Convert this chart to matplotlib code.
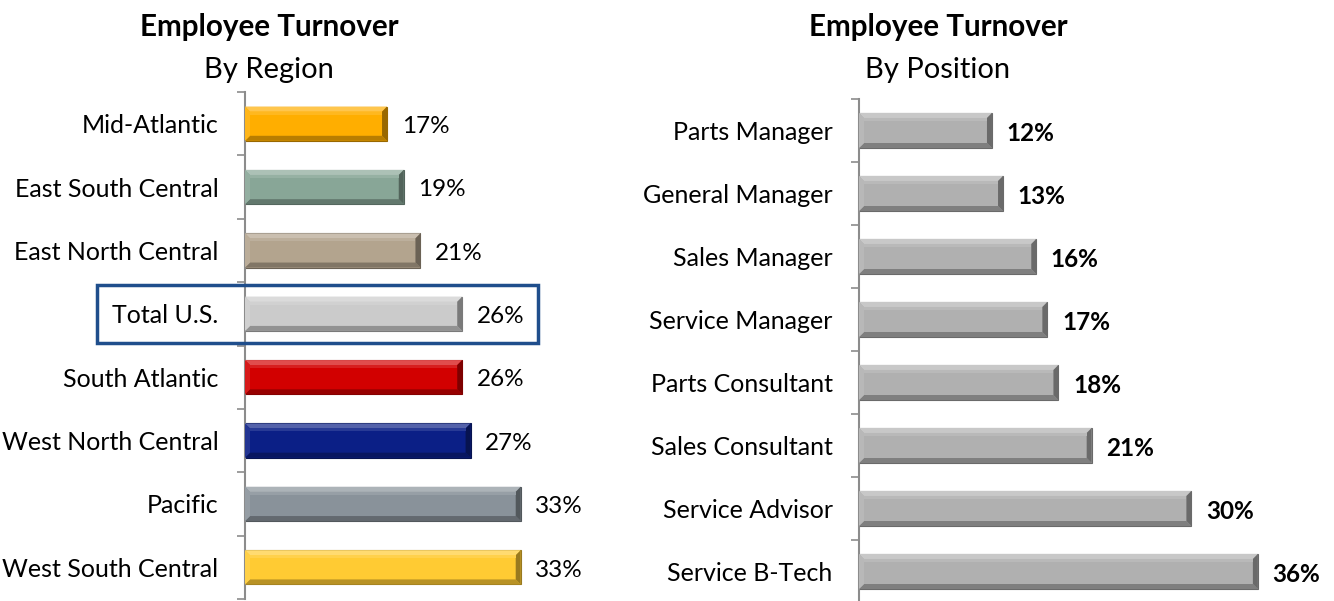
import matplotlib
matplotlib.use("Agg")
import matplotlib.pyplot as plt
from matplotlib.patches import Polygon, Rectangle
from matplotlib.colors import to_rgb
import matplotlib.transforms as mtransforms

plt.rcParams['font.family'] = ['Lato', 'DejaVu Sans']

# ---- data ----
region_labels = ["Mid-Atlantic", "East South Central", "East North Central", "Total U.S.",
                 "South Atlantic", "West North Central", "Pacific", "West South Central"]
region_values = [17, 19, 21, 26, 26, 27, 33, 33]
region_colors = ["#FFAE00", "#88A697", "#B3A48E", "#CBCBCB",
                 "#D20000", "#0B1F86", "#89929A", "#FFCB33"]

position_labels = ["Parts Manager", "General Manager", "Sales Manager", "Service Manager",
                   "Parts Consultant", "Sales Consultant", "Service Advisor", "Service B-Tech"]
position_values = [12, 13, 16, 17, 18, 21, 30, 36]
position_color = "#B0B0B0"

W, H = 1334, 601
fig = plt.figure(figsize=(W / 100, H / 100), dpi=100)


def mix(c, t, f):
    c = to_rgb(c)
    t = to_rgb(t)
    return tuple(ci * (1 - f) + ti * f for ci, ti in zip(c, t))


def bevel(ax, patch, color, px_per_x, px_per_y, b=5.0):
    x0, y0 = patch.get_x(), patch.get_y()
    w, h = patch.get_width(), patch.get_height()
    x1, y1 = x0 + w, y0 + h
    dx = b / px_per_x
    dy = b / px_per_y
    # y axis inverted: y0 is top visually
    top = [(x0, y0), (x1, y0), (x1 - dx, y0 + dy), (x0 + dx, y0 + dy)]
    bot = [(x0, y1), (x1, y1), (x1 - dx, y1 - dy), (x0 + dx, y1 - dy)]
    right = [(x1, y0), (x1, y1), (x1 - dx, y1 - dy), (x1 - dx, y0 + dy)]
    left = [(x0, y0), (x0, y1), (x0 + dx, y1 - dy), (x0 + dx, y0 + dy)]
    ax.add_patch(Polygon(top, closed=True, facecolor=mix(color, "white", 0.30), edgecolor='none', zorder=3))
    ax.add_patch(Polygon(bot, closed=True, facecolor=mix(color, "black", 0.28), edgecolor='none', zorder=3))
    ax.add_patch(Polygon(right, closed=True, facecolor=mix(color, "black", 0.40), edgecolor='none', zorder=3))
    ax.add_patch(Polygon(left, closed=True, facecolor=mix(color, "white", 0.10), edgecolor='none', zorder=3))
    ax.add_patch(Polygon([(x0 + dx, y0 + dy), (x1 - dx, y0 + dy), (x1 - dx, y0 + 1.6 * dy), (x0 + dx, y0 + 1.6 * dy)],
                         closed=True, facecolor=mix(color, "white", 0.12), edgecolor='none', zorder=3))
    patch.set_edgecolor(mix(color, "black", 0.40))
    patch.set_linewidth(0.8)


def panel(left_px, top_px, bottom_px, px_per_unit, xmax, labels, values, colors, bold_values, bar_h):
    width_px = xmax * px_per_unit
    ax = fig.add_axes([left_px / W, 1 - bottom_px / H, width_px / W, (bottom_px - top_px) / H])
    n = len(labels)
    y = list(range(n))
    bars = ax.barh(y, values, height=bar_h, color=colors, zorder=2)
    ax.set_xlim(0, xmax)
    ax.set_ylim(n - 0.5, -0.5)
    px_per_y = (bottom_px - top_px) / n
    for p, c in zip(bars.patches, colors):
        bevel(ax, p, c, px_per_unit, px_per_y)
    for yi, v in zip(y, values):
        ax.annotate(f"{v}%", xy=(v, yi), xytext=(10.5, -2), textcoords='offset points',
                    ha='left', va='center', fontsize=17.5,
                    fontweight='bold' if bold_values else 'normal', color='black')
    for s in ["top", "right", "bottom"]:
        ax.spines[s].set_visible(False)
    ax.spines["left"].set_color("#8C8C8C")
    ax.spines["left"].set_linewidth(1.5)
    ax.set_xticks([])
    ax.set_yticks([i - 0.5 for i in range(n + 1)])
    ax.set_yticklabels([])
    ax.tick_params(axis='y', which='major', length=6, width=1.2, color="#8C8C8C", direction='out')
    ax.set_yticks(y, minor=True)
    ax.set_yticklabels(labels, minor=True, fontsize=18)
    ax.tick_params(axis='y', which='minor', length=0, pad=19)
    return ax


ax1 = panel(245, 92, 599, 8.355, 45, region_labels, region_values, region_colors, False, 0.54)
ax2 = panel(859, 99, 603, 11.08, 42, position_labels, position_values,
            [position_color] * len(position_labels), True, 0.556)

# titles
fig.text(269 / W, 1 - 27 / H, "Employee Turnover", ha='center', va='center', fontsize=21.3, fontweight='bold')
fig.text(269 / W, 1 - 70 / H, "By Region", ha='center', va='center', fontsize=21)
fig.text(938 / W, 1 - 27 / H, "Employee Turnover", ha='center', va='center', fontsize=21.3, fontweight='bold')
fig.text(938 / W, 1 - 70 / H, "By Position", ha='center', va='center', fontsize=21)

# highlight box around Total U.S.
idx = region_labels.index("Total U.S.")
trans = mtransforms.blended_transform_factory(fig.transFigure, ax1.transData)
ax1.add_patch(Rectangle((97 / W, idx - 0.457), (538 - 97) / W, 0.914, transform=trans,
                        fill=False, edgecolor="#1F4E8C", linewidth=2.5, clip_on=False, zorder=5))

fig.savefig("out.png", dpi=100)
